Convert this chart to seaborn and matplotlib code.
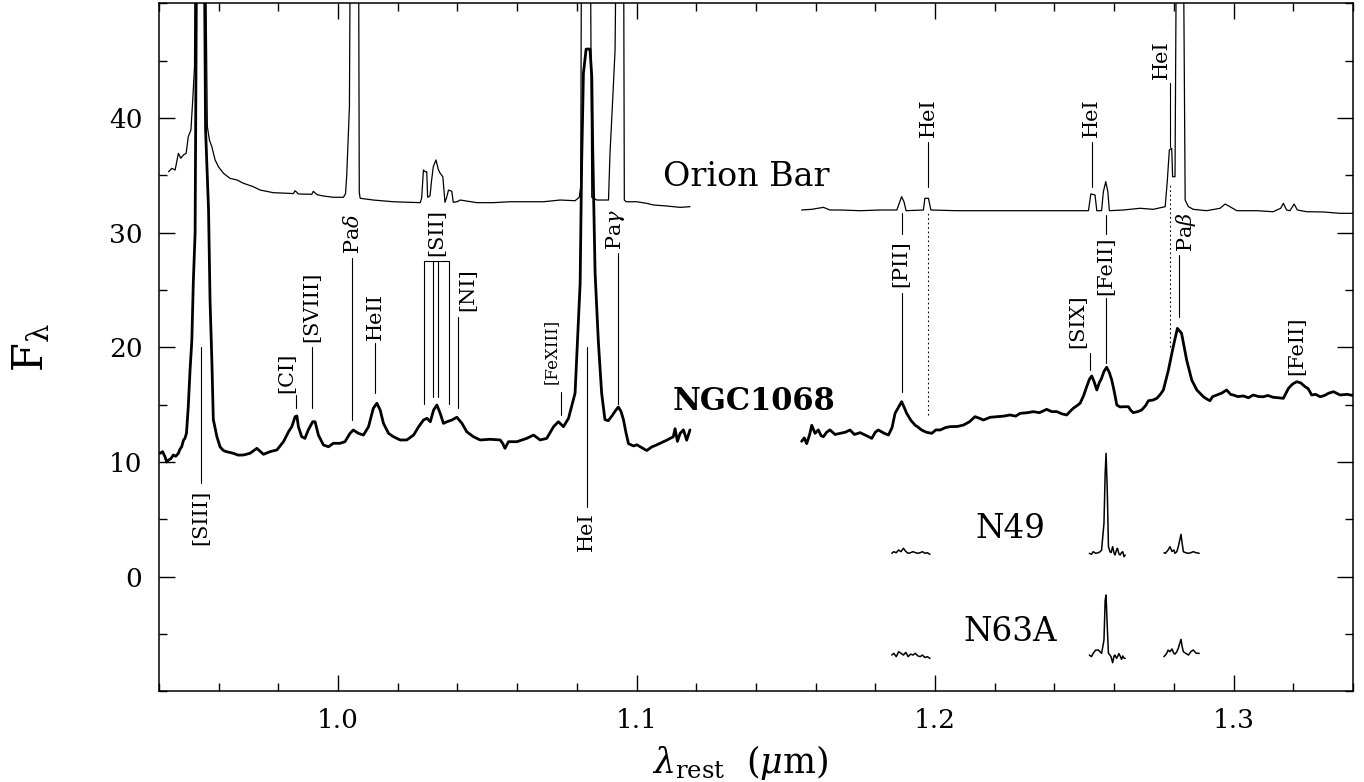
import numpy as np
import pandas as pd
import matplotlib
matplotlib.use('Agg')
import matplotlib.pyplot as plt
import seaborn as sns
from matplotlib.ticker import MultipleLocator, FixedLocator

sns.set_theme(style='ticks')
plt.rcParams['font.family'] = ['DejaVu Serif']
plt.rcParams['mathtext.fontset'] = 'dejavuserif'

# ---------------- data (wavelength in micron, flux) ----------------
ngc_wl1 = [0.9404,0.9412,0.9420,0.9426,0.9432,0.9440,0.9448,0.9456,0.9465,0.9470,0.9476,0.9482,0.9487,0.9492,
           0.9498,0.9504,0.9510,0.9515,0.9521,0.9524,0.9528,0.9550,0.9556,0.9566,0.9571,0.9577,0.9582,0.9594,
           0.9605,0.9616,0.9626,0.9649,0.9665,0.9683,0.9705,0.9718,0.9728,0.9740,0.9750,0.9772,0.9795,0.9817,
           0.9834,0.9845,0.9856,0.9862,0.9867,0.9878,0.9889,0.9900,0.9915,0.9923,0.9934,0.9951,0.9968,0.9984,
           1.0007,1.0023,1.0040,1.0051,1.0068,1.0085,1.0102,1.0118,1.0130,1.0141,1.0152,1.0169,1.0185,1.0208,
           1.0230,1.0253,1.0270,1.0286,1.0298,1.0309,1.0320,1.0331,1.0342,1.0353,1.0365,1.0381,1.0398,1.0415,
           1.0431,1.0453,1.0476,1.0509,1.0543,1.0552,1.0559,1.0571,1.0599,1.0632,1.0655,1.0677,1.0699,1.0722,
           1.0738,1.0755,1.0772,1.0788,1.0794,1.0802,1.0811,1.0816,1.0822,1.0831,1.0844,1.0850,1.0853,1.0861,
           1.0872,1.0883,1.0894,1.0905,1.0917,1.0930,1.0939,1.0948,1.0956,1.0965,1.0973,1.0990,1.1001,1.1034,
           1.1050,1.1068,1.1101,1.1123,1.1129,1.1137,1.1146,1.1157,1.1168,1.1179]
ngc_fl1 = [10.76,10.9,10.46,10.0,10.17,10.3,10.61,10.5,10.76,11.1,11.33,11.9,12.07,12.5,
           14.8,18.0,20.6,25.7,30.0,46.0,62.0,62.0,39.0,32.0,24.1,18.9,13.7,12.2,
           11.3,11.0,10.9,10.76,10.6,10.61,10.76,11.0,11.19,10.9,10.67,10.9,11.05,11.77,
           12.64,13.08,13.95,14.01,13.08,12.21,12.06,12.79,13.51,13.51,12.35,11.48,11.33,11.63,
           11.63,11.77,12.50,12.79,12.50,12.35,13.08,14.68,15.12,14.53,13.37,12.50,12.21,11.92,
           11.92,12.35,13.08,13.66,13.81,13.51,14.53,14.97,14.25,13.37,13.51,13.66,13.90,13.37,
           12.64,12.21,11.92,11.98,11.92,11.6,11.19,11.77,11.77,12.06,12.35,11.92,12.06,13.08,
           13.51,13.08,13.81,15.41,16.0,20.5,25.6,36.0,43.9,46.0,46.0,43.6,37.5,26.5,
           20.5,16.0,13.7,13.6,14.0,14.5,14.8,14.4,13.7,12.5,11.6,11.4,11.5,11.0,
           11.3,11.5,11.9,12.2,12.9,11.8,12.5,12.8,11.9,12.8]

ngc_wl2 = [1.1553,1.1562,1.1570,1.1580,1.1587,1.1598,1.1609,1.1618,1.1626,1.1637,1.1648,1.1665,1.1682,1.1700,
           1.1715,1.1730,1.1749,1.1770,1.1788,1.1800,1.1810,1.1830,1.1844,1.1856,1.1866,1.1878,1.1888,1.1896,
           1.1905,1.1920,1.1933,1.1945,1.1955,1.1970,1.1989,1.2003,1.2017,1.2035,1.2050,1.2075,1.2095,1.2115,
           1.2134,1.2150,1.2162,1.2185,1.2207,1.2230,1.2251,1.2270,1.2285,1.2310,1.2329,1.2350,1.2374,1.2390,
           1.2408,1.2425,1.2441,1.2452,1.2463,1.2475,1.2486,1.2498,1.2508,1.2517,1.2525,1.2533,1.2542,1.2550,
           1.2558,1.2566,1.2575,1.2584,1.2592,1.2600,1.2609,1.2620,1.2631,1.2648,1.2656,1.2664,1.2680,1.2692,
           1.2705,1.2715,1.2730,1.2743,1.2755,1.2765,1.2782,1.2798,1.2812,1.2826,1.2835,1.2843,1.2860,1.2877,
           1.2899,1.2910,1.2921,1.2930,1.2944,1.2960,1.2977,1.2990,1.2999,1.3015,1.3033,1.3050,1.3066,1.3085,
           1.3100,1.3115,1.3133,1.3150,1.3167,1.3184,1.3198,1.3212,1.3225,1.3240,1.3250,1.3262,1.3275,1.3290,
           1.3305,1.3318,1.3335,1.3357,1.3380,1.3400]
ngc_fl2 = [11.8,12.1,11.6,12.4,13.2,12.5,12.8,12.3,12.2,12.6,12.8,12.4,12.50,12.6,
           12.79,12.4,12.56,12.3,12.06,12.6,12.79,12.5,12.35,13.0,14.24,14.8,15.26,14.8,
           14.24,13.6,13.22,13.0,12.79,12.6,12.50,12.8,12.79,13.0,13.08,13.1,13.22,13.5,
           13.95,13.8,13.66,13.9,13.95,14.0,14.10,14.0,14.24,14.3,14.39,14.3,14.59,14.4,
           14.39,14.2,14.10,14.4,14.68,14.9,15.12,15.8,16.56,17.2,17.50,17.0,16.28,16.9,
           17.30,17.9,18.26,17.8,17.15,16.2,14.97,14.8,14.82,14.82,14.5,14.30,14.4,14.53,
           14.9,15.34,15.4,15.55,15.9,16.28,18.02,20.05,21.65,21.22,20.0,18.89,17.15,16.28,
           15.69,15.5,15.34,15.7,15.84,16.0,16.28,15.9,15.84,15.7,15.76,15.6,15.84,15.7,
           15.69,15.8,15.64,15.6,15.55,16.42,16.8,17.00,16.9,16.56,16.4,15.84,15.9,15.69,
           15.8,15.99,16.13,15.84,15.9,15.8]

orion_wl1 = [0.9432,0.9443,0.9454,0.9465,0.9473,0.9482,0.9491,0.9498,0.9507,0.9513,0.9519,0.9522,0.9553,0.9562,
             0.9569,0.9577,0.9588,0.9599,0.9616,0.9638,0.9661,0.9683,0.9716,0.9739,0.9783,0.9828,0.9850,0.9856,
             0.9867,0.9912,0.9917,0.9930,0.9951,0.9984,1.0018,1.0025,1.0029,1.0038,1.0042,1.0068,1.0071,1.0074,
             1.0118,1.0185,1.0275,1.0280,1.0286,1.0292,1.0297,1.0300,1.0308,1.0313,1.0319,1.0328,1.0336,1.0342,
             1.0351,1.0358,1.0363,1.0370,1.0381,1.0386,1.0400,1.0409,1.0465,1.0520,1.0576,1.0632,1.0688,1.0744,
             1.0794,1.0808,1.0813,1.0816,1.0844,1.0850,1.0867,1.0906,1.0911,1.0920,1.0928,1.0934,1.0956,1.0959,
             1.0965,1.1001,1.1034,1.1056,1.1101,1.1146,1.1179]
orion_fl1 = [35.31,35.6,35.46,36.91,36.48,36.77,36.91,38.36,38.95,41.56,44.46,62.0,62.0,39.23,
             38.07,37.49,36.33,35.75,35.17,34.73,34.59,34.30,34.00,33.71,33.48,33.43,33.4,33.65,
             33.37,33.34,33.6,33.3,33.19,33.08,33.08,33.4,35.02,40.98,62.0,62.0,33.5,32.99,
             32.84,32.69,32.61,33.0,35.46,35.3,35.3,33.08,33.2,34.5,35.75,36.33,35.5,35.17,
             34.87,32.64,33.0,33.71,33.6,32.64,32.7,32.84,32.61,32.61,32.69,32.69,32.69,32.84,
             32.78,33.08,34.0,62.0,62.0,33.08,32.84,32.84,36.91,41.56,45.92,62.0,62.0,32.84,
             32.69,32.69,32.55,32.41,32.32,32.20,32.26]

orion_wl2 = [1.1553,1.1587,1.1626,1.1648,1.1682,1.1749,1.1816,1.1872,1.1880,1.1888,1.1896,1.1903,1.1961,1.1966,
             1.1978,1.1986,1.2073,1.2184,1.2296,1.2408,1.2514,1.2522,1.2536,1.2542,1.2558,1.2564,1.2572,1.2579,
             1.2584,1.2631,1.2687,1.2731,1.2771,1.2778,1.2785,1.2793,1.2796,1.2804,1.2810,1.2830,1.2834,1.2838,
             1.2849,1.2865,1.2910,1.2955,1.2972,1.2988,1.3011,1.3078,1.3133,1.3158,1.3167,1.3178,1.3189,1.3203,
             1.3214,1.3245,1.3301,1.3357,1.3400]
orion_fl2 = [31.97,32.03,32.20,31.97,31.97,31.91,31.97,31.97,32.55,33.13,32.69,31.91,31.97,32.99,
             32.99,31.97,31.91,31.91,31.91,31.91,31.91,33.37,33.28,31.91,31.91,33.57,34.44,33.57,
             31.91,31.97,32.12,32.03,32.26,34.44,37.20,37.35,34.87,34.87,62.0,62.0,48.5,32.84,
             32.26,32.03,31.91,32.12,32.49,32.26,31.91,31.91,31.82,32.12,32.55,31.97,31.91,32.49,
             31.97,31.82,31.80,31.68,31.68]

snr_wl_a = [1.1855,1.1862,1.1870,1.1878,1.1886,1.1894,1.1902,1.1910,1.1918,1.1926,1.1934,1.1942,1.1950,1.1958,
            1.1966,1.1974,1.1983]
snr_wl_b = [1.2517,1.2524,1.2530,1.2538,1.2547,1.2553,1.2558,1.2566,1.2570,1.2573,1.2577,1.2581,1.2586,1.2590,
            1.2595,1.2600,1.2603,1.2608,1.2611,1.2616,1.2620,1.2625,1.2629,1.2633,1.2637]
snr_wl_c = [1.2767,1.2772,1.2776,1.2781,1.2787,1.2794,1.2800,1.2804,1.2810,1.2815,1.2820,1.2824,1.2828,1.2832,
            1.2840,1.2849,1.2857,1.2865,1.2875,1.2885]

n49_fl_a = [2.04,2.18,2.09,2.33,2.18,2.48,2.2,2.04,2.09,2.18,2.1,2.04,2.09,2.18,2.04,2.09,1.95]
n49_fl_b = [2.04,1.95,2.18,2.04,2.09,2.18,2.33,4.65,9.0,10.76,7.56,2.62,2.18,2.1,2.62,2.04,1.9,2.33,2.48,2.0,
            1.89,2.1,2.18,1.75,1.89]
n49_fl_c = [2.09,2.04,2.18,2.33,2.62,2.2,2.33,2.04,2.18,2.62,3.2,3.69,2.9,2.18,2.09,2.04,2.09,2.18,2.09,2.04]

n63a_fl_a = [-6.83,-6.68,-6.97,-6.54,-6.68,-6.83,-6.6,-6.97,-6.75,-6.83,-6.68,-6.9,-6.97,-6.83,-7.05,-6.97,-7.12]
n63a_fl_b = [-6.83,-6.97,-6.68,-6.4,-6.39,-6.55,-6.68,-5.52,-2.03,-1.60,-4.36,-6.68,-6.83,-7.0,-7.50,-6.9,-6.83,
             -7.12,-7.0,-6.7,-6.91,-7.2,-6.91,-7.1,-7.12]
n63a_fl_c = [-6.97,-6.83,-6.68,-6.4,-6.54,-6.3,-6.68,-6.75,-6.54,-6.24,-5.8,-5.46,-6.1,-6.54,-6.68,-6.83,-6.54,
             -6.39,-6.68,-6.68]

x_major = [1.0, 1.1, 1.2, 1.3]
x_labels = ['1.0', '1.1', '1.2', '1.3']
y_major = [0, 10, 20, 30, 40]
y_labels = ['0', '10', '20', '30', '40']

# line identifications: (text, text_x, text_y, anchor, size)
line_labels = [
    ('[SIII]', 0.9540, 7.6, 'right', 15),
    ('[CI]', 0.9829, 16.0, 'left', 15),
    ('[SVIII]', 0.9913, 20.5, 'left', 15),
    (r'Pa$\delta$', 1.0050, 28.1, 'left', 15),
    ('HeII', 1.0124, 20.6, 'left', 15),
    ('[SII]', 1.0332, 28.0, 'left', 15),
    ('[NI]', 1.0436, 23.2, 'left', 15),
    ('[FeXIII]', 1.0714, 16.8, 'left', 12),
    ('HeI', 1.0833, 5.6, 'right', 15),
    (r'Pa$\gamma$', 1.0930, 28.5, 'left', 15),
    ('HeI', 1.1977, 38.3, 'left', 15),
    ('[PII]', 1.1886, 27.3, 'center', 15),
    ('HeI', 1.2525, 38.3, 'left', 15),
    ('[FeII]', 1.2573, 27.1, 'center', 15),
    ('[SIX]', 1.2479, 19.9, 'left', 15),
    ('HeI', 1.2757, 43.4, 'left', 15),
    (r'Pa$\beta$', 1.2841, 28.3, 'left', 15),
    ('[FeII]', 1.3212, 17.6, 'left', 15),
]
# marker segments: (x, y0, y1, style)
marker_lines = [
    (0.9540, 8.14, 20.05, '-'), (0.9859, 14.68, 15.84, '-'), (0.9914, 14.7, 20.05, '-'),
    (1.0047, 13.66, 27.8, '-'), (1.0124, 16.0, 20.35, '-'),
    (1.0288, 15.1, 27.55, '-'), (1.0319, 15.69, 27.55, '-'), (1.0334, 15.69, 27.55, '-'), (1.0370, 15.1, 27.55, '-'),
    (1.0403, 14.68, 22.67, '-'), (1.0746, 14.1, 16.13, '-'), (1.0833, 6.1, 20.05, '-'),
    (1.0937, 15.1, 28.2, '-'), (1.1976, 34.0, 37.9, '-'), (1.1976, 14.1, 31.7, ':'),
    (1.1888, 29.9, 31.7, '-'), (1.1888, 16.13, 24.7, '-'), (1.2525, 34.0, 37.9, '-'),
    (1.2572, 29.9, 31.5, '-'), (1.2572, 18.6, 24.27, '-'), (1.2519, 18.0, 19.5, '-'),
    (1.2787, 37.5, 43.0, '-'), (1.2787, 20.05, 34.2, ':'), (1.2817, 22.67, 28.05, '-'),
]
bracket = (1.0288, 1.0370, 27.55)

# ---------------- figure ----------------
W, H = 1364, 782
fig = plt.figure(figsize=(W / 100, H / 100), dpi=100)
ax = fig.add_axes([159 / W, (H - 691.4) / H, (1352.9 - 159) / W, (691.4 - 3.2) / H])

def draw(wl, fl, lw):
    df = pd.DataFrame({'wl': wl, 'fl': fl})
    sns.lineplot(data=df, x='wl', y='fl', ax=ax, color='black', linewidth=lw,
                 estimator=None, sort=False)

draw(ngc_wl1, ngc_fl1, 2.0)
draw(ngc_wl2, ngc_fl2, 2.0)
draw(orion_wl1, orion_fl1, 0.9)
draw(orion_wl2, orion_fl2, 0.9)
for wl, f49, f63 in [(snr_wl_a, n49_fl_a, n63a_fl_a), (snr_wl_b, n49_fl_b, n63a_fl_b), (snr_wl_c, n49_fl_c, n63a_fl_c)]:
    draw(wl, f49, 1.1)
    draw(wl, f63, 1.1)

for x, y0, y1, st in marker_lines:
    ax.plot([x, x], [y0, y1], color='black', lw=0.8, ls=st if st == '-' else (0, (1.5, 2.5)))
ax.plot([bracket[0], bracket[1]], [bracket[2], bracket[2]], color='black', lw=0.8)

for s, x, y, anc, fs in line_labels:
    ax.text(x, y, s, rotation=90, rotation_mode='anchor', ha=anc, va='center',
            fontsize=fs, color='black')

ax.text(1.1089, 34.85, 'Orion Bar', fontsize=24, ha='left', va='center', color='black')
ax.text(1.1122, 15.26, 'NGC1068', fontsize=22, fontweight='bold', ha='left', va='center', color='black')
ax.text(1.2134, 4.16, 'N49', fontsize=23.5, ha='left', va='center', color='black')
ax.text(1.2095, -4.82, 'N63A', fontsize=23.5, ha='left', va='center', color='black')

ax.set_xlim(0.94, 1.34)
ax.set_ylim(-10, 50)
ax.xaxis.set_major_locator(FixedLocator(x_major))
ax.set_xticklabels(x_labels)
ax.xaxis.set_minor_locator(MultipleLocator(0.02))
ax.yaxis.set_major_locator(FixedLocator(y_major))
ax.set_yticklabels(y_labels)
ax.yaxis.set_minor_locator(MultipleLocator(5))
ax.tick_params(which='both', direction='in', top=True, right=True, colors='black', labelsize=19)
ax.tick_params(which='major', length=11.5, width=1.0, pad=12)
ax.tick_params(which='minor', length=5.8, width=1.0)
for sp in ax.spines.values():
    sp.set_color('black')
    sp.set_linewidth(1.1)
ax.set_xlabel(r'$\lambda_{\rm rest}\ \ (\mu{\rm m})$', fontsize=25, color='black')
ax.xaxis.set_label_coords(0.487, -0.075)
ax.set_ylabel(r'$\rm F_\lambda$', fontsize=30, color='black')
ax.yaxis.set_label_coords(-0.089, 0.5)
ax.set_facecolor('white')
fig.patch.set_facecolor('white')

fig.savefig('out.png', dpi=100)
